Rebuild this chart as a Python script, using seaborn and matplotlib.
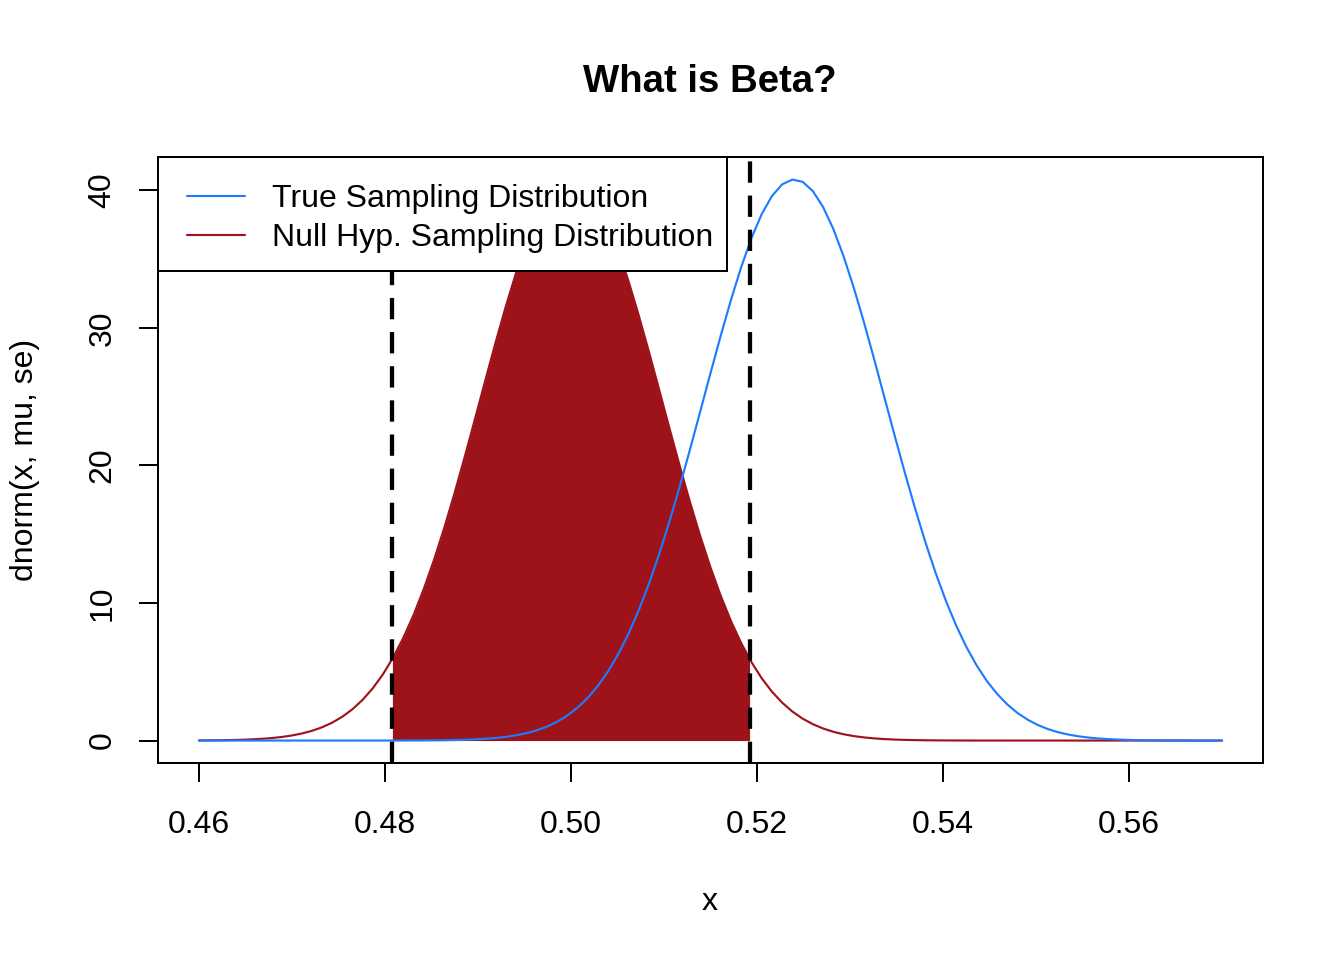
import numpy as np
import pandas as pd
import matplotlib
matplotlib.use("Agg")
import matplotlib.pyplot as plt
from matplotlib.patches import Rectangle
import seaborn as sns

# values
x_range = [0.46, 0.57]
mu_null = 0.50
mu_true = 0.524
se = 0.00978
crit = [0.4808, 0.5192]
series_names = ["True Sampling Distribution", "Null Hyp. Sampling Distribution"]
series_colors = ["#1E7BFF", "#9E121A"]
xticks = [0.46, 0.48, 0.50, 0.52, 0.54, 0.56]
yticks = [0, 10, 20, 30, 40]


def dnorm(x, mu, sd):
    return np.exp(-0.5 * ((x - mu) / sd) ** 2) / (sd * np.sqrt(2 * np.pi))


x = np.linspace(x_range[0], x_range[1], 101)
df = pd.DataFrame({
    "x": np.concatenate([x, x]),
    "y": np.concatenate([dnorm(x, mu_true, se), dnorm(x, mu_null, se)]),
    "dist": [series_names[0]] * len(x) + [series_names[1]] * len(x),
})
xs = np.linspace(crit[0], crit[1], 60)
ys = dnorm(xs, mu_null, se)

sns.set_theme(style="ticks", rc={"text.color": "black", "axes.labelcolor": "black"})
plt.rcParams["font.family"] = ["Liberation Sans", "DejaVu Sans"]

W, H = 1344, 960
fig = plt.figure(figsize=(7, 5), dpi=192)
ax = fig.add_axes([158 / W, 1 - 763 / H, (1263 - 158) / W, (763 - 157) / H])

# shaded acceptance region under the null curve
ax.fill_between(xs, 0, ys, color=series_colors[1], lw=0, zorder=1)
sns.lineplot(data=df, x="x", y="y", hue="dist", hue_order=series_names[::-1],
             palette=series_colors[::-1], lw=0.8, ax=ax, legend=False, zorder=2)
for c in crit:
    ax.axvline(c, color="black", lw=1.6, dashes=(5, 3), zorder=3)

span = x_range[1] - x_range[0]
ax.set_xlim(x_range[0] - 0.04 * span, x_range[1] + 0.04 * span)
ymax = dnorm(mu_null, mu_null, se)
ax.set_ylim(-0.04 * ymax, ymax * 1.04)
ax.set_xticks(xticks)
ax.set_xticklabels([f"{t:.2f}" for t in xticks])
ax.set_yticks(yticks)
ax.set_yticklabels([str(t) for t in yticks], rotation=90, va="center")
ax.tick_params(axis="both", direction="out", length=7.2, width=0.75, labelsize=12,
               color="black", labelcolor="black")
ax.tick_params(axis="x", pad=10.6)
ax.tick_params(axis="y", pad=8)
for s in ax.spines.values():
    s.set_visible(True)
    s.set_linewidth(0.75)
    s.set_color("black")
ax.set_xlabel("")
ax.set_ylabel("")

# legend box in R style: white box anchored at the top-left corner of the plot
box = Rectangle((158 / W, 1 - 271 / H), (727 - 158) / W, (271 - 157) / H,
                transform=fig.transFigure, facecolor="white", edgecolor="black",
                lw=0.75, zorder=4, clip_on=False)
ax.add_patch(box)
handles = [plt.Line2D([], [], color=c, lw=0.8) for c in series_colors]
leg = ax.legend(handles, series_names, loc="upper left",
                bbox_to_anchor=(187 / W, 1 - 184.5 / H), bbox_transform=fig.transFigure,
                borderaxespad=0, borderpad=0, frameon=False, fontsize=12,
                handlelength=1.8, handletextpad=0.85, labelspacing=0.28)
leg.set_zorder(5)

fig.text(710 / W, 1 - 82 / H, "What is Beta?", ha="center", va="center",
         fontsize=14.4, fontweight="bold")
fig.text(710 / W, 1 - 902 / H, "x", ha="center", va="center", fontsize=12)
fig.text(25 / W, 1 - 460 / H, "dnorm(x, mu, se)", ha="center", va="center",
         fontsize=12, rotation=90)

fig.savefig("out.png", dpi=192, facecolor="white")
